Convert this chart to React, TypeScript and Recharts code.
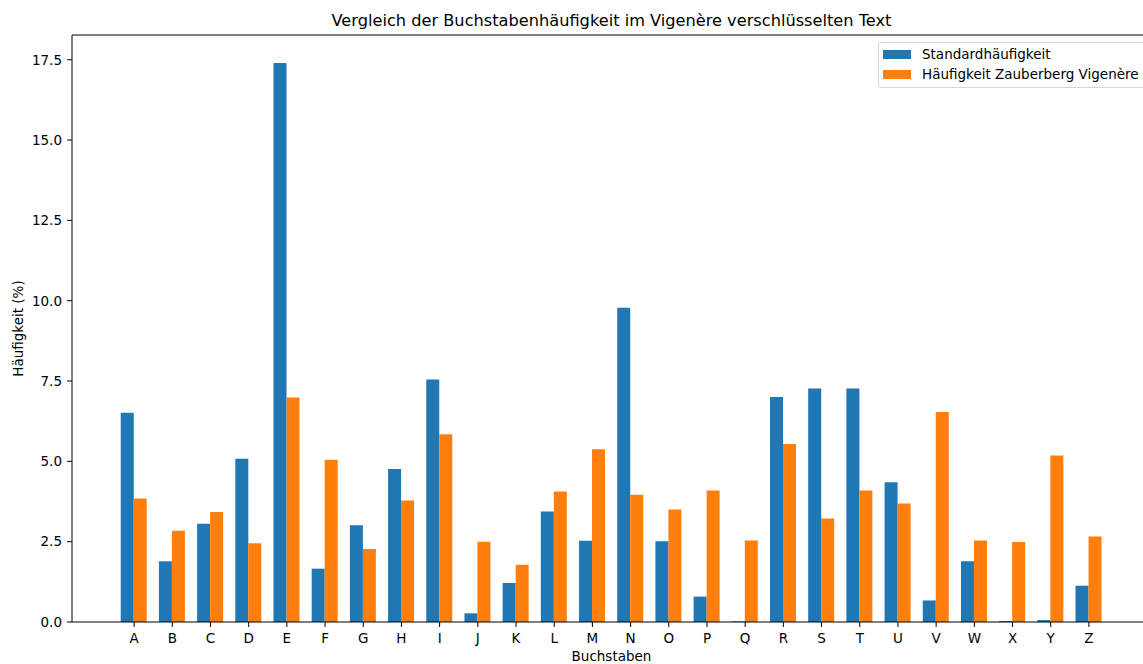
import React from 'react';
import {
  BarChart,
  Bar,
  XAxis,
  YAxis,
  ReferenceLine,
} from 'recharts';

const LETTERS = ['A', 'B', 'C', 'D', 'E', 'F', 'G', 'H', 'I', 'J', 'K', 'L', 'M', 'N', 'O', 'P', 'Q', 'R', 'S', 'T', 'U', 'V', 'W', 'X', 'Y', 'Z'];
const STANDARD = [6.51, 1.89, 3.06, 5.08, 17.4, 1.66, 3.01, 4.76, 7.55, 0.27, 1.21, 3.44, 2.53, 9.78, 2.51, 0.79, 0.02, 7.0, 7.27, 7.27, 4.35, 0.67, 1.89, 0.03, 0.06, 1.13];
const VIGENERE = [3.84, 2.84, 3.42, 2.45, 6.99, 5.05, 2.27, 3.78, 5.84, 2.5, 1.78, 4.06, 5.38, 3.96, 3.5, 4.09, 2.54, 5.54, 3.22, 4.09, 3.69, 6.54, 2.54, 2.49, 5.18, 2.66];
const Y_TICKS = [0, 2.5, 5, 7.5, 10, 12.5, 15, 17.5];
const Y_MAX = 18.27;

const SERIES = [
  { key: 'standard', name: 'Standardhäufigkeit', color: '#1f77b4' },
  { key: 'vigenere', name: 'Häufigkeit Zauberberg Vigenère', color: '#ff7f0e' },
];

const FONT = '"DejaVu Sans", sans-serif';
const FS = 13.5;

const data = LETTERS.map((letter, i) => ({
  letter,
  standard: STANDARD[i],
  vigenere: VIGENERE[i],
}));

// legend drawn as an overlay so it doesn't eat into the plot area
function LegendBox() {
  return (
    <div
      style={{
        position: 'absolute',
        left: 878,
        top: 42,
        border: '1px solid #d6d6d6',
        borderRadius: 3,
        background: 'rgba(255,255,255,0.8)',
        padding: '1px 8px 3px 4px',
        fontSize: FS,
        color: '#000',
        whiteSpace: 'nowrap',
      }}
    >
      {SERIES.map((s) => (
        <div key={s.key} style={{ display: 'flex', alignItems: 'center', height: 20 }}>
          <span style={{ width: 28, height: 9, background: s.color, marginRight: 11, display: 'inline-block' }} />
          <span>{s.name}</span>
        </div>
      ))}
    </div>
  );
}

export default function App() {
  return (
    <div
      style={{
        position: 'fixed',
        left: 0,
        top: 0,
        width: 1143,
        height: 664,
        overflow: 'hidden',
        background: '#fff',
        fontFamily: FONT,
      }}
    >
      <div
        style={{
          position: 'absolute',
          left: 72,
          width: 1079,
          top: 13,
          textAlign: 'center',
          fontSize: 16.2,
          lineHeight: 1,
          color: '#000',
          whiteSpace: 'nowrap',
        }}
      >
        Vergleich der Buchstabenhäufigkeit im Vigenère verschlüsselten Text
      </div>
      <BarChart
        width={1170}
        height={664}
        data={data}
        margin={{ top: 35, right: 19, bottom: 0, left: 0 }}
        barCategoryGap="15%"
        barGap={0}
        style={{ fontFamily: FONT }}
      >
        <XAxis
          dataKey="letter"
          height={42}
          padding={{ left: 43, right: 43 }}
          stroke="#000"
          tickSize={5}
          tickMargin={6}
          interval={0}
          tick={{ fill: '#000', fontSize: FS }}
          label={{ value: 'Buchstaben', position: 'insideBottom', offset: 3, fill: '#000', fontSize: FS }}
        />
        <YAxis
          width={72}
          domain={[0, Y_MAX]}
          ticks={Y_TICKS}
          allowDataOverflow
          stroke="#000"
          tickSize={5}
          tickMargin={5}
          tick={{ fill: '#000', fontSize: FS }}
          tickFormatter={(v: number) => v.toFixed(1)}
          label={{
            value: 'Häufigkeit (%)',
            angle: -90,
            position: 'insideLeft',
            offset: 18,
            fill: '#000',
            fontSize: FS,
            style: { textAnchor: 'middle' },
          }}
        />
        <ReferenceLine y={Y_MAX} stroke="#000" strokeWidth={1} />
        {SERIES.map((s) => (
          <Bar key={s.key} dataKey={s.key} name={s.name} fill={s.color} isAnimationActive={false} />
        ))}
      </BarChart>
      <LegendBox />
    </div>
  );
}
